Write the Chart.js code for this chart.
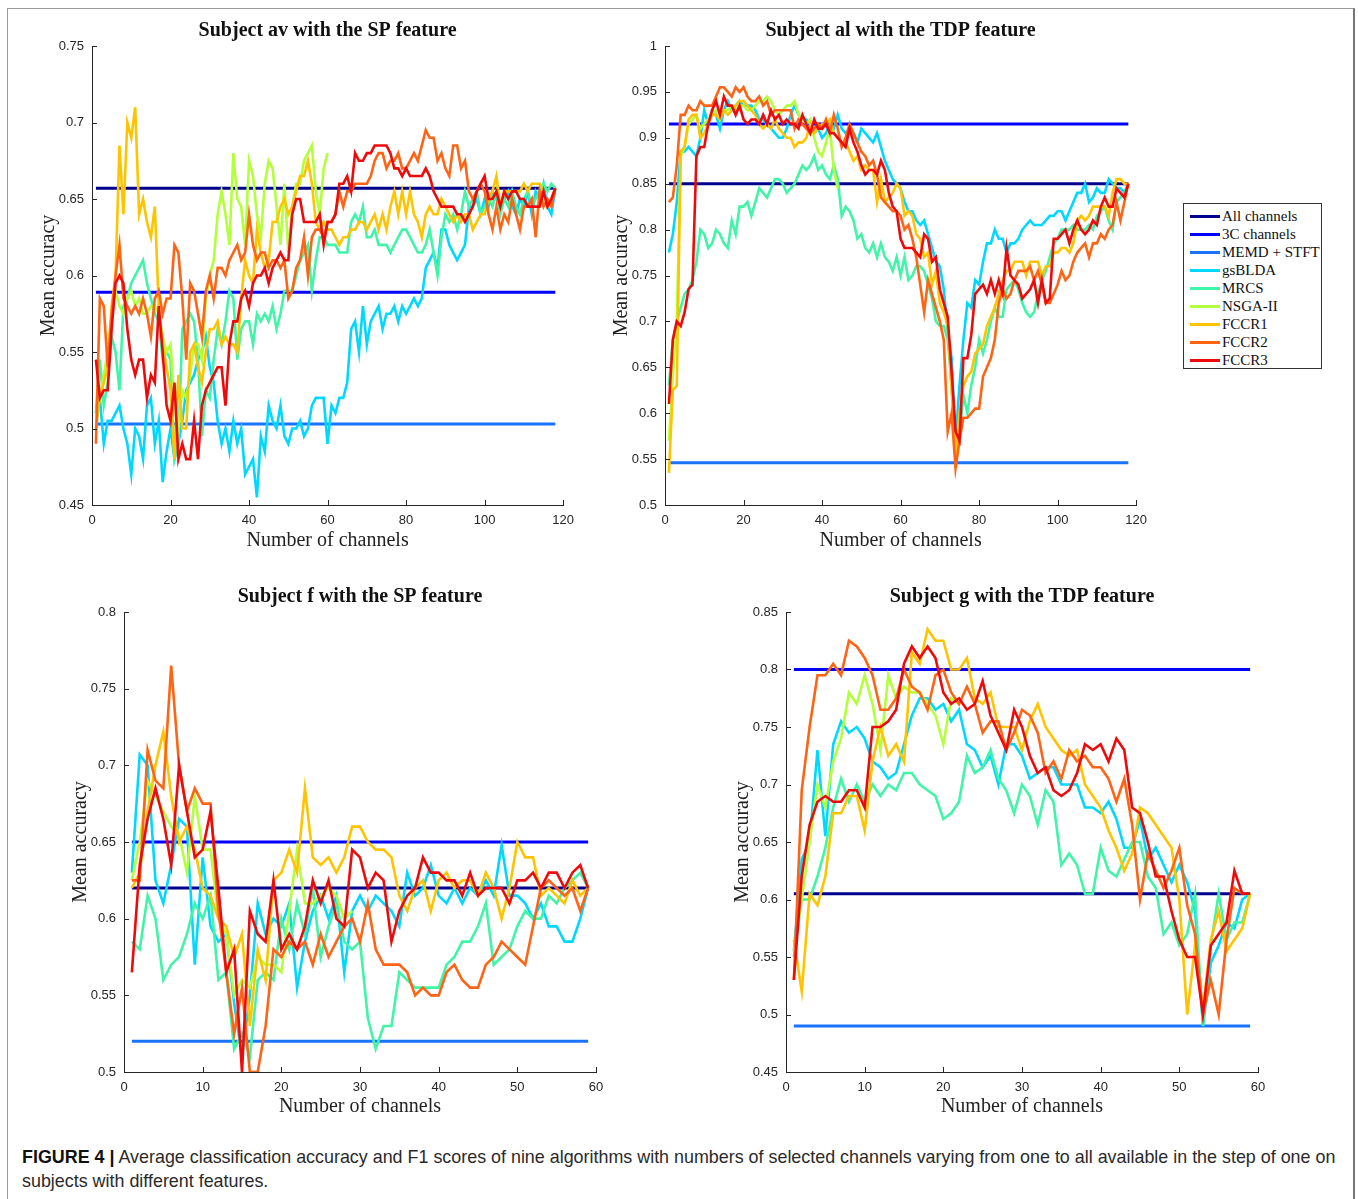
<!DOCTYPE html>
<html>
<head>
<meta charset="utf-8">
<script src="https://cdn.jsdelivr.net/npm/chart.js@4"></script>
<style>
  body { margin: 0; background: #fff; width: 1358px; height: 1199px; position: relative; overflow: hidden; }
  #frame { position: absolute; left: 7px; top: 8px; width: 1345px; height: 1200px; border: 1px solid #9a9a9a; border-right: 2px solid #777; }
  canvas { position: absolute; }
  #legend { position: absolute; left: 1183px; top: 203px; width: 137px; height: 164px; border: 1px solid #333; background: #fff;
            font-family: "Liberation Serif", "Times New Roman", serif; font-size: 15px; color: #111; }
  #legend .row { position: absolute; left: 0; height: 18px; line-height: 18px; white-space: nowrap; }
  #legend .sw { position: absolute; left: 6px; top: 8px; width: 30px; height: 3px; }
  #legend .lb { position: absolute; left: 38px; top: 0; }
  #caption { position: absolute; left: 22px; top: 1145px; font-family: "Liberation Sans Narrow", "Liberation Sans", Arial, sans-serif;
             font-size: 17.9px; line-height: 24px; color: #2a2a2a; white-space: nowrap; }
  #caption b { color: #111; }
</style>
</head>
<body>
<div id="frame"></div>

<canvas id="chartAv" width="560" height="548" style="left:22px; top:12px;"></canvas>
<canvas id="chartAl" width="560" height="548" style="left:595px; top:12px;"></canvas>
<canvas id="chartF" width="560" height="550" style="left:56px; top:578px;"></canvas>
<canvas id="chartG" width="560" height="550" style="left:718px; top:578px;"></canvas>

<div id="legend"></div>

<div id="caption"><b>FIGURE 4 |</b> Average classification accuracy and F1 scores of nine algorithms with numbers of selected channels varying from one to all available in the step of one on<br>subjects with different features.</div>

<script>
// series names and colours (jet-like, same order as the legend)
const seriesNames = ['All channels', '3C channels', 'MEMD + STFT', 'gsBLDA', 'MRCS', 'NSGA-II', 'FCCR1', 'FCCR2', 'FCCR3']
const seriesColors = ['#00008f', '#0000ff', '#1a73ff', '#00d8ff', '#40f5a8', '#b4ff3c', '#ffc400', '#ff6414', '#ee0a0a']

// ---------- Subject av, SP feature (118 channels) ----------
const avAll = 0.657
const av3C = 0.589
const avMemd = 0.503
const avGsblda = [0.51,0.52,0.49,0.505,0.505,0.51,0.515,0.50,0.49,0.47,
  0.50,0.495,0.48,0.515,0.52,0.49,0.505,0.465,0.485,0.50,
  0.48,0.49,0.505,0.525,0.53,0.535,0.545,0.55,0.56,0.54,
  0.53,0.505,0.49,0.50,0.485,0.505,0.49,0.50,0.47,0.475,
  0.48,0.455,0.495,0.485,0.515,0.505,0.50,0.515,0.495,0.49,
  0.50,0.50,0.505,0.495,0.50,0.515,0.52,0.52,0.52,0.49,
  0.515,0.51,0.52,0.52,0.53,0.565,0.57,0.55,0.58,0.555,
  0.57,0.575,0.58,0.565,0.575,0.575,0.58,0.57,0.58,0.575,
  0.58,0.585,0.58,0.585,0.605,0.61,0.615,0.605,0.63,0.63,
  0.62,0.615,0.61,0.615,0.62,0.645,0.645,0.65,0.64,0.65,
  0.645,0.655,0.65,0.645,0.65,0.655,0.645,0.64,0.65,0.645,
  0.655,0.64,0.655,0.65,0.66,0.645,0.64,0.657]
const avMrcs = [0.51,0.545,0.515,0.53,0.56,0.55,0.525,0.58,0.585,0.595,
  0.60,0.605,0.61,0.595,0.585,0.575,0.57,0.545,0.55,0.545,
  0.48,0.49,0.565,0.57,0.575,0.57,0.545,0.495,0.525,0.52,
  0.545,0.565,0.555,0.57,0.59,0.585,0.545,0.565,0.57,0.57,
  0.555,0.575,0.57,0.575,0.57,0.58,0.565,0.575,0.59,0.59,
  0.59,0.60,0.61,0.615,0.62,0.59,0.61,0.625,0.625,0.62,
  0.62,0.62,0.615,0.615,0.615,0.635,0.64,0.635,0.645,0.625,
  0.625,0.63,0.62,0.62,0.62,0.615,0.62,0.625,0.63,0.63,
  0.625,0.62,0.615,0.615,0.62,0.63,0.615,0.60,0.625,0.64,
  0.635,0.64,0.63,0.64,0.655,0.645,0.65,0.655,0.64,0.645,
  0.65,0.645,0.655,0.64,0.65,0.645,0.655,0.645,0.64,0.65,
  0.655,0.645,0.65,0.655,0.66,0.655,0.66,0.657]
const avNsga = [0.51,0.52,0.535,0.55,0.575,0.59,0.58,0.575,0.585,0.59,
  0.58,0.585,0.575,0.575,0.58,0.58,0.575,0.56,0.55,0.555,
  0.515,0.50,0.525,0.52,0.535,0.555,0.555,0.545,0.585,0.60,
  0.61,0.64,0.655,0.64,0.62,0.68,0.65,0.645,0.62,0.675,
  0.665,0.64,0.625,0.66,0.675,0.67,0.645,0.62,0.66,0.615,
  0.645,0.66,0.66,0.675,0.68,0.685,0.655,0.64,0.67,0.68]
const avFccr1 = [0.50,0.52,0.53,0.54,0.58,0.60,0.685,0.64,0.70,0.69,
  0.71,0.64,0.65,0.635,0.625,0.645,0.58,0.555,0.54,0.525,
  0.48,0.535,0.50,0.50,0.55,0.555,0.54,0.53,0.55,0.565,
  0.565,0.57,0.555,0.56,0.555,0.555,0.55,0.585,0.61,0.60,
  0.595,0.63,0.615,0.605,0.61,0.635,0.635,0.645,0.65,0.64,
  0.645,0.655,0.665,0.665,0.675,0.66,0.635,0.63,0.635,0.63,
  0.63,0.625,0.62,0.625,0.625,0.63,0.63,0.635,0.635,0.63,
  0.635,0.64,0.63,0.64,0.63,0.645,0.655,0.64,0.655,0.64,
  0.655,0.64,0.635,0.625,0.64,0.645,0.64,0.64,0.65,0.645,
  0.64,0.635,0.64,0.635,0.64,0.64,0.63,0.635,0.64,0.64,
  0.65,0.655,0.665,0.645,0.655,0.655,0.655,0.655,0.655,0.66,
  0.655,0.66,0.66,0.66,0.655,0.645,0.65,0.657]
const avFccr2 = [0.49,0.585,0.58,0.54,0.575,0.60,0.62,0.585,0.58,0.575,
  0.58,0.575,0.585,0.575,0.56,0.585,0.59,0.575,0.585,0.585,
  0.62,0.615,0.585,0.545,0.595,0.59,0.575,0.56,0.59,0.60,
  0.585,0.605,0.605,0.60,0.61,0.615,0.62,0.61,0.615,0.64,
  0.62,0.61,0.615,0.615,0.605,0.61,0.61,0.605,0.61,0.585,
  0.59,0.605,0.61,0.625,0.60,0.625,0.63,0.63,0.625,0.635,
  0.635,0.64,0.655,0.645,0.655,0.655,0.66,0.66,0.66,0.66,
  0.665,0.675,0.68,0.68,0.67,0.675,0.675,0.68,0.67,0.67,
  0.675,0.68,0.675,0.685,0.695,0.69,0.69,0.675,0.68,0.67,
  0.665,0.685,0.685,0.67,0.675,0.655,0.65,0.655,0.66,0.655,
  0.64,0.63,0.645,0.63,0.64,0.635,0.65,0.64,0.63,0.645,
  0.645,0.65,0.625,0.655,0.645,0.65,0.645,0.657]
const avFccr3 = [0.545,0.52,0.525,0.525,0.565,0.595,0.60,0.595,0.565,0.545,
  0.535,0.545,0.545,0.52,0.535,0.53,0.58,0.55,0.515,0.505,
  0.53,0.48,0.49,0.48,0.48,0.505,0.48,0.515,0.525,0.53,
  0.535,0.54,0.54,0.515,0.555,0.57,0.57,0.585,0.59,0.58,
  0.595,0.60,0.60,0.605,0.595,0.605,0.61,0.615,0.61,0.61,
  0.64,0.65,0.65,0.635,0.635,0.635,0.635,0.64,0.62,0.635,
  0.635,0.64,0.66,0.66,0.665,0.655,0.68,0.675,0.675,0.68,
  0.68,0.685,0.685,0.685,0.685,0.68,0.67,0.67,0.665,0.67,
  0.665,0.665,0.665,0.665,0.67,0.665,0.655,0.65,0.645,0.645,
  0.645,0.645,0.64,0.64,0.635,0.64,0.645,0.655,0.66,0.665,
  0.65,0.65,0.655,0.645,0.655,0.65,0.655,0.655,0.65,0.65,
  0.645,0.645,0.645,0.645,0.655,0.645,0.65,0.657]

// ---------- Subject al, TDP feature (118 channels) ----------
const alAll = 0.85
const al3C = 0.915
const alMemd = 0.546
const alGsblda = [0.775,0.795,0.83,0.885,0.885,0.89,0.885,0.88,0.90,0.93,
  0.915,0.93,0.925,0.91,0.93,0.94,0.93,0.935,0.94,0.935,
  0.935,0.935,0.93,0.92,0.92,0.915,0.91,0.905,0.90,0.90,
  0.91,0.925,0.935,0.925,0.92,0.92,0.915,0.905,0.91,0.90,
  0.905,0.915,0.91,0.925,0.91,0.905,0.91,0.905,0.895,0.91,
  0.905,0.90,0.895,0.905,0.89,0.875,0.865,0.855,0.85,0.845,
  0.83,0.82,0.82,0.81,0.805,0.81,0.795,0.78,0.765,0.76,
  0.735,0.69,0.66,0.57,0.63,0.68,0.72,0.715,0.745,0.74,
  0.765,0.785,0.785,0.80,0.79,0.79,0.775,0.785,0.785,0.79,
  0.80,0.805,0.81,0.805,0.805,0.805,0.81,0.815,0.815,0.82,
  0.82,0.81,0.82,0.83,0.84,0.84,0.85,0.83,0.835,0.845,
  0.84,0.84,0.855,0.85,0.845,0.845,0.84,0.85]
const alMrcs = [0.63,0.68,0.70,0.715,0.73,0.735,0.745,0.765,0.80,0.795,
  0.78,0.785,0.80,0.795,0.785,0.78,0.81,0.795,0.825,0.825,
  0.83,0.815,0.83,0.845,0.84,0.835,0.845,0.855,0.855,0.85,
  0.84,0.845,0.85,0.86,0.87,0.865,0.87,0.88,0.865,0.87,
  0.86,0.855,0.87,0.855,0.815,0.825,0.82,0.81,0.79,0.795,
  0.78,0.775,0.785,0.77,0.785,0.77,0.765,0.755,0.77,0.75,
  0.77,0.745,0.75,0.76,0.76,0.755,0.74,0.725,0.70,0.695,
  0.695,0.68,0.63,0.555,0.575,0.62,0.60,0.63,0.65,0.68,
  0.665,0.68,0.70,0.715,0.705,0.705,0.735,0.74,0.745,0.735,
  0.72,0.71,0.705,0.71,0.73,0.745,0.755,0.77,0.785,0.79,
  0.80,0.80,0.80,0.805,0.80,0.80,0.80,0.805,0.80,0.815,
  0.82,0.825,0.81,0.80,0.83,0.835,0.84,0.85]
const alNsga = [0.57,0.64,0.70,0.88,0.89,0.915,0.92,0.925,0.91,0.915,
  0.92,0.925,0.93,0.925,0.93,0.93,0.935,0.93,0.935,0.935,
  0.93,0.93,0.935,0.94,0.94,0.945,0.94,0.93,0.925,0.93,
  0.935,0.935,0.94,0.925,0.92,0.915,0.92,0.90,0.885,0.88,
  0.895,0.91,0.865,0.845]
const alFccr1 = [0.535,0.625,0.63,0.885,0.89,0.92,0.925,0.925,0.90,0.905,
  0.915,0.925,0.925,0.92,0.93,0.925,0.93,0.935,0.94,0.94,
  0.935,0.93,0.925,0.915,0.91,0.915,0.91,0.92,0.91,0.905,
  0.90,0.90,0.89,0.895,0.895,0.90,0.915,0.905,0.91,0.915,
  0.915,0.92,0.905,0.90,0.895,0.895,0.885,0.875,0.88,0.865,
  0.87,0.865,0.865,0.83,0.855,0.83,0.835,0.84,0.85,0.845,
  0.815,0.82,0.815,0.795,0.79,0.77,0.775,0.74,0.755,0.72,
  0.71,0.695,0.625,0.555,0.60,0.63,0.64,0.645,0.665,0.67,
  0.675,0.695,0.705,0.715,0.73,0.745,0.755,0.755,0.765,0.765,
  0.765,0.75,0.765,0.765,0.765,0.75,0.76,0.76,0.775,0.775,
  0.78,0.78,0.775,0.785,0.81,0.815,0.81,0.815,0.825,0.825,
  0.825,0.825,0.815,0.84,0.855,0.855,0.85,0.85]
const alFccr2 = [0.83,0.835,0.87,0.925,0.925,0.935,0.93,0.93,0.94,0.935,
  0.935,0.935,0.945,0.955,0.955,0.95,0.945,0.955,0.95,0.955,
  0.945,0.94,0.94,0.945,0.935,0.94,0.925,0.93,0.93,0.93,
  0.93,0.93,0.91,0.92,0.915,0.91,0.905,0.91,0.915,0.91,
  0.92,0.905,0.925,0.91,0.89,0.90,0.915,0.905,0.895,0.885,
  0.88,0.87,0.875,0.86,0.835,0.83,0.825,0.82,0.82,0.815,
  0.80,0.805,0.79,0.77,0.74,0.71,0.745,0.73,0.715,0.70,
  0.68,0.58,0.60,0.54,0.57,0.595,0.595,0.60,0.605,0.605,
  0.64,0.65,0.66,0.68,0.72,0.735,0.725,0.73,0.745,0.755,
  0.755,0.755,0.76,0.745,0.755,0.74,0.72,0.72,0.73,0.74,
  0.755,0.745,0.75,0.765,0.775,0.78,0.785,0.77,0.785,0.785,
  0.795,0.79,0.80,0.805,0.83,0.81,0.83,0.85]
const alFccr3 = [0.61,0.68,0.70,0.695,0.71,0.735,0.74,0.88,0.89,0.89,
  0.915,0.93,0.94,0.925,0.945,0.935,0.935,0.925,0.935,0.92,
  0.915,0.92,0.92,0.915,0.925,0.915,0.93,0.92,0.925,0.915,
  0.92,0.915,0.915,0.91,0.925,0.915,0.905,0.92,0.91,0.91,
  0.915,0.905,0.905,0.90,0.895,0.89,0.91,0.895,0.885,0.87,
  0.86,0.865,0.865,0.86,0.875,0.865,0.84,0.825,0.82,0.79,
  0.78,0.78,0.78,0.775,0.77,0.795,0.79,0.765,0.77,0.735,
  0.72,0.705,0.645,0.58,0.57,0.66,0.66,0.685,0.73,0.735,
  0.74,0.73,0.745,0.73,0.745,0.73,0.78,0.75,0.745,0.74,
  0.725,0.73,0.735,0.745,0.72,0.745,0.72,0.725,0.79,0.79,
  0.795,0.80,0.785,0.80,0.81,0.80,0.795,0.80,0.81,0.805,
  0.825,0.835,0.825,0.825,0.845,0.84,0.835,0.85]

// ---------- Subject f, SP feature (59 channels) ----------
const fAll = 0.62
const f3C = 0.65
const fMemd = 0.52
const fGsblda = [0.63,0.707,0.70,0.625,0.61,0.635,0.665,0.66,0.57,0.64,
  0.595,0.585,0.59,0.545,0.51,0.55,0.61,0.59,0.60,0.595,
  0.61,0.555,0.585,0.605,0.615,0.60,0.615,0.565,0.605,0.615,
  0.605,0.615,0.61,0.605,0.595,0.63,0.615,0.62,0.635,0.615,
  0.61,0.62,0.61,0.62,0.615,0.625,0.615,0.648,0.615,0.615,
  0.61,0.60,0.61,0.595,0.595,0.585,0.585,0.60,0.62]
const fMrcs = [0.585,0.58,0.615,0.60,0.56,0.57,0.575,0.59,0.61,0.60,
  0.615,0.56,0.565,0.515,0.525,0.51,0.56,0.565,0.56,0.60,
  0.58,0.61,0.59,0.62,0.575,0.595,0.61,0.585,0.58,0.585,
  0.535,0.515,0.53,0.53,0.565,0.56,0.555,0.555,0.555,0.555,
  0.57,0.575,0.585,0.585,0.595,0.61,0.57,0.575,0.58,0.595,
  0.605,0.60,0.60,0.615,0.61,0.62,0.625,0.63,0.62]
const fNsga = [0.625,0.65,0.69,0.68,0.67,0.66,0.655,0.63,0.68,0.645,
  0.645,0.60,0.59,0.55,0.56,0.555,0.575,0.57,0.57,0.565,
  0.605,0.645,0.61,0.61,0.615,0.62,0.615,0.60,0.605]
const fFccr1 = [0.62,0.63,0.67,0.70,0.722,0.68,0.65,0.66,0.645,0.62,
  0.615,0.60,0.595,0.575,0.59,0.53,0.58,0.56,0.625,0.63,
  0.645,0.63,0.685,0.64,0.635,0.64,0.63,0.64,0.66,0.66,
  0.65,0.645,0.645,0.64,0.615,0.605,0.62,0.625,0.605,0.625,
  0.63,0.62,0.625,0.625,0.615,0.63,0.62,0.60,0.62,0.65,
  0.64,0.64,0.615,0.62,0.615,0.61,0.625,0.615,0.62]
const fFccr2 = [0.625,0.625,0.71,0.69,0.685,0.765,0.70,0.67,0.685,0.675,
  0.675,0.605,0.565,0.525,0.555,0.50,0.50,0.53,0.58,0.575,
  0.585,0.58,0.585,0.57,0.59,0.575,0.585,0.595,0.60,0.585,
  0.61,0.58,0.57,0.57,0.57,0.565,0.55,0.555,0.55,0.55,
  0.565,0.57,0.56,0.555,0.555,0.57,0.575,0.585,0.58,0.575,
  0.57,0.595,0.62,0.625,0.62,0.615,0.62,0.605,0.62]
const fFccr3 = [0.565,0.635,0.665,0.685,0.665,0.635,0.70,0.67,0.64,0.645,
  0.67,0.62,0.565,0.58,0.50,0.605,0.59,0.585,0.625,0.58,
  0.59,0.58,0.595,0.625,0.61,0.625,0.60,0.595,0.645,0.64,
  0.62,0.63,0.625,0.585,0.605,0.615,0.62,0.64,0.63,0.63,
  0.625,0.625,0.615,0.63,0.615,0.62,0.62,0.62,0.61,0.625,
  0.625,0.63,0.62,0.63,0.63,0.62,0.63,0.635,0.62]

// ---------- Subject g, TDP feature (59 channels) ----------
const gAll = 0.605
const g3C = 0.80
const gMemd = 0.49
const gGsblda = [0.555,0.635,0.65,0.73,0.655,0.735,0.755,0.745,0.75,0.74,
  0.72,0.715,0.705,0.71,0.735,0.76,0.775,0.775,0.765,0.77,
  0.755,0.765,0.735,0.73,0.715,0.725,0.70,0.735,0.735,0.725,
  0.705,0.71,0.715,0.715,0.70,0.70,0.70,0.68,0.68,0.675,
  0.685,0.67,0.645,0.645,0.67,0.635,0.645,0.63,0.615,0.63,
  0.615,0.59,0.49,0.545,0.56,0.58,0.575,0.60,0.605]
const gMrcs = [0.55,0.60,0.60,0.62,0.645,0.68,0.705,0.685,0.70,0.685,
  0.70,0.69,0.70,0.695,0.71,0.71,0.70,0.695,0.69,0.67,
  0.675,0.685,0.725,0.71,0.715,0.73,0.705,0.695,0.675,0.70,
  0.69,0.665,0.695,0.685,0.63,0.64,0.63,0.605,0.605,0.645,
  0.625,0.62,0.635,0.65,0.65,0.62,0.61,0.57,0.58,0.56,
  0.57,0.605,0.49,0.56,0.605,0.565,0.58,0.58,0.605]
const gNsga = [0.555,0.60,0.65,0.70,0.68,0.72,0.74,0.78,0.77,0.795,
  0.77,0.73,0.795,0.775,0.785,0.78,0.78,0.77,0.76,0.735,
  0.775,0.77]
const gFccr1 = [0.565,0.52,0.605,0.595,0.62,0.675,0.675,0.69,0.69,0.66,
  0.72,0.75,0.725,0.735,0.72,0.815,0.805,0.835,0.825,0.825,
  0.80,0.80,0.81,0.775,0.77,0.78,0.75,0.75,0.75,0.73,
  0.755,0.77,0.75,0.74,0.73,0.725,0.73,0.70,0.69,0.68,
  0.66,0.645,0.625,0.64,0.68,0.675,0.665,0.655,0.645,0.60,
  0.50,0.56,0.505,0.565,0.59,0.555,0.565,0.575,0.605]
const gFccr2 = [0.53,0.695,0.75,0.795,0.795,0.805,0.795,0.825,0.82,0.81,
  0.795,0.765,0.765,0.775,0.80,0.785,0.78,0.765,0.795,0.80,
  0.78,0.77,0.785,0.77,0.745,0.755,0.755,0.73,0.745,0.765,
  0.76,0.745,0.71,0.72,0.705,0.73,0.72,0.725,0.715,0.715,
  0.705,0.685,0.705,0.665,0.60,0.64,0.625,0.61,0.625,0.645,
  0.595,0.57,0.50,0.53,0.50,0.565,0.61,0.605,0.605]
const gFccr3 = [0.53,0.62,0.665,0.685,0.69,0.685,0.685,0.695,0.695,0.68,
  0.75,0.75,0.755,0.765,0.805,0.82,0.81,0.82,0.81,0.78,
  0.77,0.775,0.765,0.77,0.79,0.76,0.745,0.73,0.765,0.75,
  0.725,0.71,0.715,0.695,0.69,0.695,0.71,0.735,0.73,0.735,
  0.72,0.74,0.73,0.68,0.675,0.65,0.62,0.62,0.59,0.565,
  0.55,0.55,0.50,0.56,0.57,0.58,0.625,0.605,0.605]

// draws the small inward tick marks (MATLAB style)
const innerTicks = {
  id: 'innerTicks',
  afterDraw(chart) {
    const ctx = chart.ctx
    const area = chart.chartArea
    const xs = chart.scales.x
    const ys = chart.scales.y
    ctx.save()
    ctx.strokeStyle = '#262626'
    ctx.lineWidth = 1
    xs.ticks.forEach(function (t, i) {
      const px = Math.round(xs.getPixelForTick(i)) + 0.5
      ctx.beginPath()
      ctx.moveTo(px, area.bottom)
      ctx.lineTo(px, area.bottom - 5)
      ctx.stroke()
    })
    ys.ticks.forEach(function (t, i) {
      const py = Math.round(ys.getPixelForTick(i)) + 0.5
      ctx.beginPath()
      ctx.moveTo(area.left, py)
      ctx.lineTo(area.left + 5, py)
      ctx.stroke()
    })
    ctx.restore()
  }
}

function toPoints(values) {
  return values.map(function (v, i) { return { x: i + 1, y: v } })
}

function flatLine(value, n) {
  return [{ x: 1, y: value }, { x: n, y: value }]
}

function makeChart(id, title, n, xMax, xStep, yMin, yMax, flat, curves, box) {
  var ctx = document.getElementById(id).getContext('2d')
  var datasets = []
  flat.forEach(function (v, i) {
    datasets.push({ label: seriesNames[i], data: flatLine(v, n), borderColor: seriesColors[i], borderWidth: 3, order: 20 - i })
  })
  curves.forEach(function (arr, j) {
    var k = j + 3
    datasets.push({ label: seriesNames[k], data: toPoints(arr), borderColor: seriesColors[k], borderWidth: 2.6, order: 20 - k })
  })

  return new Chart(ctx, {
    type: 'line',
    data: { datasets: datasets },
    options: {
      responsive: false,
      animation: false,
      devicePixelRatio: 1,
      layout: { padding: { left: 0, right: box.right, top: 0, bottom: 0 } },
      elements: {
        point: { radius: 0, hoverRadius: 0 },
        line: { tension: 0, fill: false, borderJoinStyle: 'miter' }
      },
      plugins: {
        legend: { display: false },
        tooltip: { enabled: false },
        title: {
          display: true,
          text: title,
          fullSize: false,
          color: '#111',
          font: { family: '"Liberation Serif", "Times New Roman", serif', size: 20, weight: 'bold', lineHeight: 1.2 },
          padding: { top: 7, bottom: 3 }
        }
      },
      scales: {
        x: {
          type: 'linear',
          min: 0,
          max: xMax,
          afterFit: function (scale) { scale.height = box.xHeight },
          grid: { display: false, drawTicks: false },
          border: { display: true, color: '#262626', width: 1 },
          ticks: {
            stepSize: xStep,
            padding: 8,
            color: '#262626',
            font: { family: '"Liberation Sans", Arial, sans-serif', size: 13 },
            maxRotation: 0
          },
          title: {
            display: true,
            text: 'Number of channels',
            color: '#222',
            font: { family: '"Liberation Serif", "Times New Roman", serif', size: 20, lineHeight: 1.2 },
            padding: { top: 0, bottom: box.xTitleBottom }
          }
        },
        y: {
          type: 'linear',
          min: yMin,
          max: yMax,
          afterFit: function (scale) { scale.width = box.yWidth },
          grid: { display: false, drawTicks: false },
          border: { display: true, color: '#262626', width: 1 },
          ticks: {
            stepSize: 0.05,
            padding: 8,
            color: '#262626',
            font: { family: '"Liberation Sans", Arial, sans-serif', size: 13 },
            callback: function (value) { return String(+value.toFixed(2)) }
          },
          title: {
            display: true,
            text: 'Mean accuracy',
            color: '#222',
            font: { family: '"Liberation Serif", "Times New Roman", serif', size: 20, lineHeight: 1.2 },
            padding: { top: box.yTitleTop, bottom: 0 }
          }
        }
      }
    },
    plugins: [innerTicks]
  })
}

var myChart1 = makeChart('chartAv', 'Subject av with the SP feature', 118, 120, 20, 0.45, 0.75,
  [avAll, av3C, avMemd], [avGsblda, avMrcs, avNsga, avFccr1, avFccr2, avFccr3],
  { right: 16, yWidth: 70, xHeight: 55, xTitleBottom: 7.6, yTitleTop: 14.6 })

var myChart2 = makeChart('chartAl', 'Subject al with the TDP feature', 118, 120, 20, 0.5, 1,
  [alAll, al3C, alMemd], [alGsblda, alMrcs, alNsga, alFccr1, alFccr2, alFccr3],
  { right: 18, yWidth: 70, xHeight: 55, xTitleBottom: 7.6, yTitleTop: 14.6 })

var myChart3 = makeChart('chartF', 'Subject f with the SP feature', 59, 60, 10, 0.5, 0.8,
  [fAll, f3C, fMemd], [fGsblda, fMrcs, fNsga, fFccr1, fFccr2, fFccr3],
  { right: 20, yWidth: 68, xHeight: 56, xTitleBottom: 9.6, yTitleTop: 12.6 })

var myChart4 = makeChart('chartG', 'Subject g with the TDP feature', 59, 60, 10, 0.45, 0.85,
  [gAll, g3C, gMemd], [gGsblda, gMrcs, gNsga, gFccr1, gFccr2, gFccr3],
  { right: 20, yWidth: 68, xHeight: 56, xTitleBottom: 9.6, yTitleTop: 12.6 })

// legend box (shared by the four panels)
var legendHtml = ''
seriesNames.forEach(function (name, i) {
  legendHtml += '<div class="row" style="top:' + (3 + i * 18) + 'px"><span class="sw" style="background:' + seriesColors[i] + '"></span><span class="lb">' + name + '</span></div>'
})
document.getElementById('legend').innerHTML = legendHtml
</script>
</body>
</html>
